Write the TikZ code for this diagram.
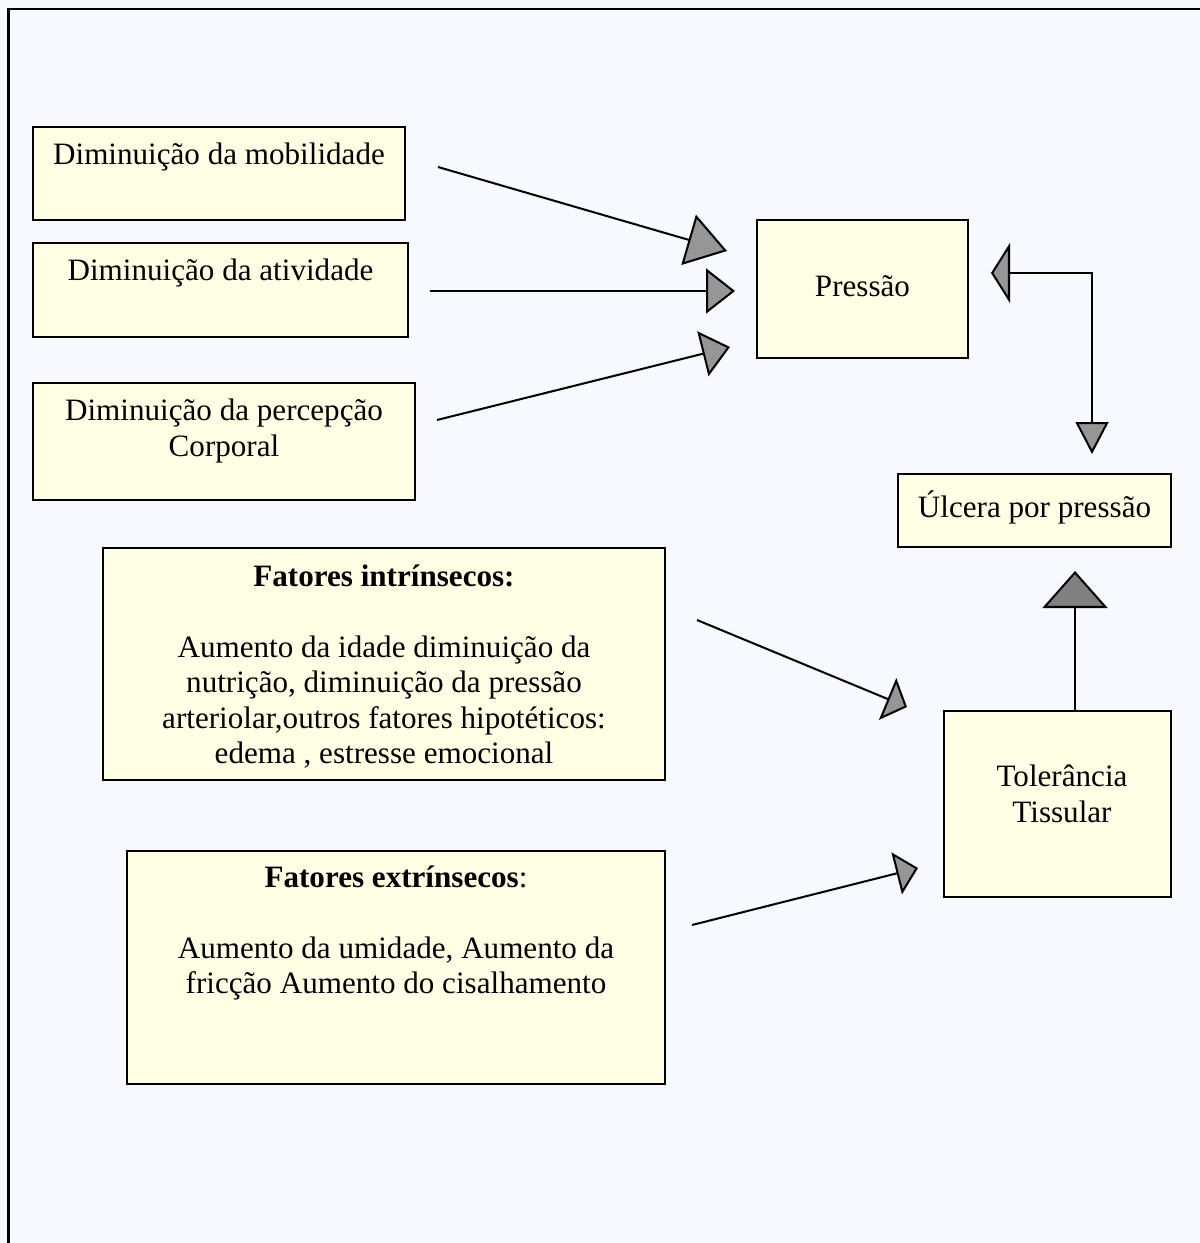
\documentclass[tikz,border=0pt]{standalone}
\usepackage{fontspec}
\setmainfont{Liberation Serif}
\usetikzlibrary{arrows.meta}
\definecolor{paper}{RGB}{248,248,255}
\definecolor{boxfill}{RGB}{255,255,229}
\definecolor{tipgray}{RGB}{150,150,150}
\definecolor{tipdark}{RGB}{128,128,128}

\begin{document}
\begin{tikzpicture}[line width=1.15pt,font=\fontsize{17.7}{20.2}\selectfont,
	box/.style={draw,fill=boxfill,inner sep=0pt},
	txt/.style={align=center,inner sep=0pt},
	arr/.style 2 args={-{Triangle[length=#1,width=#2,fill=tipgray]}}]
				
				\useasboundingbox[fill=paper] (0,0) rectangle (24,-24.86);
				\draw (0.17,-24.86) -- (0.17,-0.18) -- (24,-0.18);
				
				% left column
				\node[box,minimum width=7.44cm,minimum height=1.86cm] (mob) at (4.38,-3.47) {};
				\node[txt] (mob-t) at (4.38,-3.14) {Diminuição da mobilidade};
				\node[box,minimum width=7.5cm,minimum height=1.88cm] (ativ) at (4.41,-5.8) {};
				\node[txt] (ativ-t) at (4.41,-5.46) {Diminuição da atividade};
				\node[box,minimum width=7.64cm,minimum height=2.34cm] (perc) at (4.48,-8.83) {};
				\node[txt] (perc-t) at (4.48,-8.62) {Diminuição da percepção\\Corporal};
				
				% right column
				\node[box,minimum width=4.22cm,minimum height=2.76cm] (press) at (17.25,-5.78) {};
				\node[txt] (press-t) at (17.25,-5.72) {Pressão};
				\node[box,minimum width=5.46cm,minimum height=1.46cm] (ulc) at (20.69,-10.21) {};
				\node[txt] (ulc-t) at (20.69,-10.14) {Úlcera por pressão};
				\node[box,minimum width=4.54cm,minimum height=3.72cm] (tol) at (21.15,-16.08) {};
				\node[txt] (tol-t) at (21.24,-15.88) {Tolerância\\Tissular};
				
				% factors
				\node[box,minimum width=11.24cm,minimum height=4.64cm] (intr) at (7.68,-13.28) {};
				\node[txt] (intr-t) at (7.68,-13.34) {\textbf{Fatores intrínsecos:}\\[20pt]Aumento da idade diminuição da\\nutrição, diminuição da pressão\\arteriolar,outros fatores hipotéticos:\\edema , estresse emocional};
				\node[box,minimum width=10.76cm,minimum height=4.66cm] (extr) at (7.92,-19.35) {};
				\node[txt] (extr-t) at (7.92,-18.66) {\textbf{Fatores extrínsecos}:\\[20pt]Aumento da umidade, Aumento da\\fricção Aumento do cisalhamento};
				
				% arrow ends
				\coordinate (mob-o) at (8.76,-3.34);
				\coordinate (mob-i) at (14.54,-5.02);
				\coordinate (ativ-o) at (8.6,-5.82);
				\coordinate (ativ-i) at (14.7,-5.82);
				\coordinate (perc-o) at (8.74,-8.4);
				\coordinate (perc-i) at (14.6,-6.94);
				\coordinate (press-i) at (19.82,-5.46);
				\coordinate (ulc-i) at (21.84,-9.08);
				\coordinate (tol-o) at (21.5,-14.22);
				\coordinate (ulc-j) at (21.5,-11.42);
				\coordinate (intr-o) at (13.94,-12.4);
				\coordinate (intr-i) at (18.14,-14.14);
				\coordinate (extr-o) at (13.84,-18.5);
				\coordinate (extr-i) at (18.36,-17.36);
				
				\draw[arr={0.8cm}{1.04cm}] (mob-o) -- (mob-i);
				\draw[arr={0.58cm}{0.9cm}] (ativ-o) -- (ativ-i);
				\draw[arr={0.56cm}{0.92cm}] (perc-o) -- (perc-i);
				\draw[{Triangle[length=0.38cm,width=1.2cm,fill=tipgray]}-{Triangle[length=0.64cm,width=0.66cm,fill=tipgray]}] (press-i) -| (ulc-i);
				\draw[-{Triangle[length=0.74cm,width=1.3cm,fill=tipdark]}] (tol-o) -- (ulc-j);
				\draw[arr={0.42cm}{0.9cm}] (intr-o) -- (intr-i);
				\draw[arr={0.44cm}{0.86cm}] (extr-o) -- (extr-i);
				
				\end{tikzpicture}
\end{document}
